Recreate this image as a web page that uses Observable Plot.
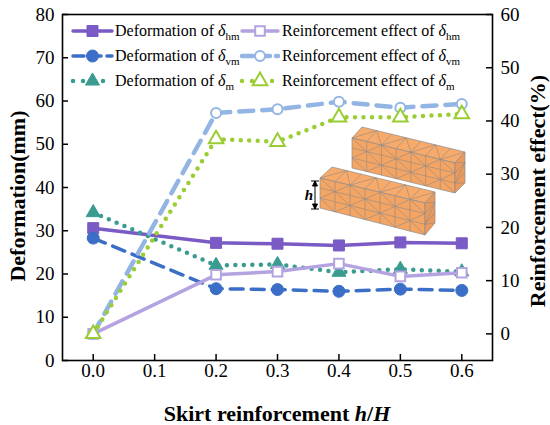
<!DOCTYPE html>
<html><head><meta charset="utf-8">
<script src="https://cdn.jsdelivr.net/npm/d3@7"></script>
<script src="https://cdn.jsdelivr.net/npm/@observablehq/plot@0.6"></script>
<style>body{margin:0;background:#fff}#chart{width:550px;height:425px}#chart svg text{font-family:"Liberation Serif",serif}</style>
</head><body><div id="chart"></div>
<script>
// ---- data ----
const ratio = [0.0, 0.2, 0.3, 0.4, 0.5, 0.6];
const defHm = [30.6, 27.2, 27.0, 26.6, 27.3, 27.1];
const defVm = [28.3, 16.6, 16.4, 16.0, 16.5, 16.2];
const defM  = [34.2, 22.0, 22.2, 20.4, 21.1, 20.5];
const reinHm = [0, 11.1, 11.7, 13.2, 10.8, 11.5];
const reinVm = [0, 41.5, 42.2, 43.6, 42.5, 43.2];
const reinM  = [0, 36.6, 36.1, 40.7, 40.7, 41.3];
const xTicks = [0.0, 0.1, 0.2, 0.3, 0.4, 0.5, 0.6];
const leftTicks = [0, 10, 20, 30, 40, 50, 60, 70, 80];
const rightTicks = [0, 10, 20, 30, 40, 50, 60];
const leftDomain = [0, 80];
const rightDomain = [-5, 60];
const xDomain = [-0.05, 0.65];
const subs = ["hm", "vm", "m"];

const toLeft = v => leftDomain[0] + (v - rightDomain[0]) * (leftDomain[1] - leftDomain[0]) / (rightDomain[1] - rightDomain[0]);
const fromLeft = v => Math.round(rightDomain[0] + (v - leftDomain[0]) * (rightDomain[1] - rightDomain[0]) / (leftDomain[1] - leftDomain[0]));

const W = 550, H = 425, mL = 62, mR = 58, mT = 14, mB = 65;
const fw = W - mL - mR, fh = H - mT - mB;

const series = [
  {name: "Deformation of ", sub: subs[0], values: defHm, right: false, color: "#7a5ac4", dash: null, symbol: "square", filled: true, r: 6.2, sw: 3.5},
  {name: "Deformation of ", sub: subs[1], values: defVm, right: false, color: "#3b6ec6", dash: "13 8", symbol: "circle", filled: true, r: 6, sw: 3.5},
  {name: "Deformation of ", sub: subs[2], values: defM, right: false, color: "#3a9c90", dash: "0 8.5", symbol: "triangle", filled: true, r: 5.2, sw: 4.5},
  {name: "Reinforcement effect of ", sub: subs[0], values: reinHm, right: true, color: "#b4a3e0", dash: null, symbol: "square", filled: false, r: 5.4, sw: 3.5},
  {name: "Reinforcement effect of ", sub: subs[1], values: reinVm, right: true, color: "#92b5e3", dash: "14 9", symbol: "circle", filled: false, r: 5, sw: 4.5},
  {name: "Reinforcement effect of ", sub: subs[2], values: reinM, right: true, color: "#9acd32", dash: "0 8.5", symbol: "triangle", filled: false, r: 5.4, sw: 4.5}
];

const marks = [];
for (const s of series) {
  const rows = ratio.map((x, i) => ({x, y: s.right ? toLeft(s.values[i]) : s.values[i]}));
  marks.push(Plot.line(rows, {x: "x", y: "y", stroke: s.color, strokeWidth: s.sw,
    strokeDasharray: s.dash || undefined, strokeLinecap: "round"}));
  marks.push(Plot.dot(rows, {x: "x", y: "y", symbol: s.symbol, r: s.r,
    fill: s.filled ? s.color : "white", stroke: s.color, strokeWidth: s.filled ? 1 : 2}));
}

const chart = Plot.plot({
  width: W, height: H,
  marginLeft: mL, marginRight: mR, marginTop: mT, marginBottom: mB,
  style: {fontFamily: "'Liberation Serif', serif", fontSize: "19px", background: "white", color: "black"},
  x: {domain: xDomain},
  y: {domain: leftDomain},
  marks: [
    Plot.axisX({ticks: xTicks, tickSize: 0, tickPadding: 3, tickFormat: d3.format(".1f"), label: null, fontSize: 19}),
    Plot.axisY({anchor: "left", ticks: leftTicks, tickSize: 0, tickPadding: 8, label: null, fontSize: 19}),
    Plot.axisY({anchor: "right", ticks: rightTicks.map(toLeft), tickSize: 0, tickPadding: 8, tickFormat: fromLeft, label: null, fontSize: 19}),
    Plot.tickX(xTicks, {x: d => d, insetTop: fh - 6, stroke: "black", strokeWidth: 1.5}),
    Plot.tickY(leftTicks, {y: d => d, insetRight: fw - 6, stroke: "black", strokeWidth: 1.5}),
    Plot.tickY(rightTicks.map(toLeft), {y: d => d, insetLeft: fw - 6, stroke: "black", strokeWidth: 1.5}),
    ...marks,
    Plot.frame({stroke: "black", strokeWidth: 1.6})
  ]
});
document.getElementById("chart").appendChild(chart);

const svg = d3.select(chart);
const font = "Liberation Serif";

// ---- axis titles ----
svg.append("text").attr("transform", "translate(17,196) rotate(-90)")
  .attr("text-anchor", "middle").attr("dy", "0.35em")
  .attr("font-family", font).attr("font-weight", "bold").attr("font-size", 22).attr("fill", "black")
  .text("Deformation(mm)");
svg.append("text").attr("transform", "translate(537,191) rotate(-90)")
  .attr("text-anchor", "middle").attr("dy", "0.35em")
  .attr("font-family", font).attr("font-weight", "bold").attr("font-size", 22).attr("fill", "black")
  .text("Reinforcement effect(%)");
const xt = svg.append("text").attr("x", 277).attr("y", 421).attr("text-anchor", "middle")
  .attr("font-family", font).attr("font-weight", "bold").attr("font-size", 22).attr("fill", "black");
xt.append("tspan").text("Skirt reinforcement ");
xt.append("tspan").attr("font-style", "italic").text("h");
xt.append("tspan").text("/");
xt.append("tspan").attr("font-style", "italic").text("H");

// ---- legend ----
const rowsY = [31, 56, 81];
const cols = [{x0: 73, x1: 112, tx: 115}, {x0: 242, x1: 278, tx: 282}];
const symMap = {square: d3.symbolSquare, circle: d3.symbolCircle, triangle: d3.symbolTriangle};
series.forEach((s, i) => {
  const c = cols[s.right ? 1 : 0];
  const y = rowsY[i % 3];
  const g = svg.append("g");
  g.append("line").attr("x1", c.x0).attr("x2", c.x1).attr("y1", y).attr("y2", y)
    .attr("stroke", s.color).attr("stroke-width", s.sw).attr("stroke-linecap", "round")
    .attr("stroke-dasharray", s.dash ? (s.dash.startsWith("0") ? "0 10" : "11 6") : null);
  g.append("path").attr("transform", `translate(${(c.x0 + c.x1) / 2},${y})`)
    .attr("d", d3.symbol(symMap[s.symbol], Math.PI * s.r * s.r)())
    .attr("fill", s.filled ? s.color : "white").attr("stroke", s.color).attr("stroke-width", s.filled ? 1 : 2);
  const t = g.append("text").attr("x", c.tx).attr("y", y).attr("dy", "0.33em")
    .attr("text-anchor", "start")
    .attr("font-family", font).attr("font-size", 16).attr("fill", "black");
  t.append("tspan").text(s.name);
  t.append("tspan").attr("font-style", "italic").text("δ");
  t.append("tspan").attr("font-size", 11).attr("dy", 4).text(s.sub);
});

// ---- inset illustration (meshed blocks) ----
const inset = svg.append("g");
const lerp = (a, b, t) => [a[0] + (b[0] - a[0]) * t, a[1] + (b[1] - a[1]) * t];
function face(p00, p10, p11, p01, nu, nv, fill) {
  inset.append("path").attr("d", `M${p00}L${p10}L${p11}L${p01}Z`).attr("fill", fill)
    .attr("stroke", "#8c8c8c").attr("stroke-width", 0.7);
  const pt = (u, v) => lerp(lerp(p00, p10, u), lerp(p01, p11, u), v);
  let d = "";
  for (let i = 1; i < nu; i++) d += `M${pt(i / nu, 0)}L${pt(i / nu, 1)}`;
  for (let j = 1; j < nv; j++) d += `M${pt(0, j / nv)}L${pt(1, j / nv)}`;
  for (let i = 0; i < nu; i++) for (let j = 0; j < nv; j++) {
    if ((i + j) % 2 === 0) d += `M${pt(i / nu, j / nv)}L${pt((i + 1) / nu, (j + 1) / nv)}`;
    else d += `M${pt((i + 1) / nu, j / nv)}L${pt(i / nu, (j + 1) / nv)}`;
  }
  inset.append("path").attr("d", d).attr("fill", "none").attr("stroke", "#8c8c8c").attr("stroke-width", 0.6);
}
function box(A, B, C, D, E, F, G) {
  face(A, D, C, B, 7, 1, "#f7aa6a");
  face(A, D, E, F, 7, 3, "#f4a463");
  face(D, C, G, E, 1, 3, "#eb9a5c");
}
box([352,138],[362,127],[465,152],[455,163],[455,193],[352,168],[465,183]);
box([320,178],[332,167],[435,192],[425,203],[425,235],[320,208],[435,223]);
inset.append("path").attr("d", "M311,181H319M311,209H319M315,181V209M315,181l-2.5,5h5zM315,209l-2.5,-5h5z")
  .attr("stroke", "black").attr("stroke-width", 1).attr("fill", "black");
inset.append("text").attr("x", 313).attr("y", 200).attr("text-anchor", "end")
  .attr("font-family", font).attr("font-weight", "bold").attr("font-style", "italic").attr("font-size", 15)
  .attr("fill", "black").text("h");
</script>
</body></html>
